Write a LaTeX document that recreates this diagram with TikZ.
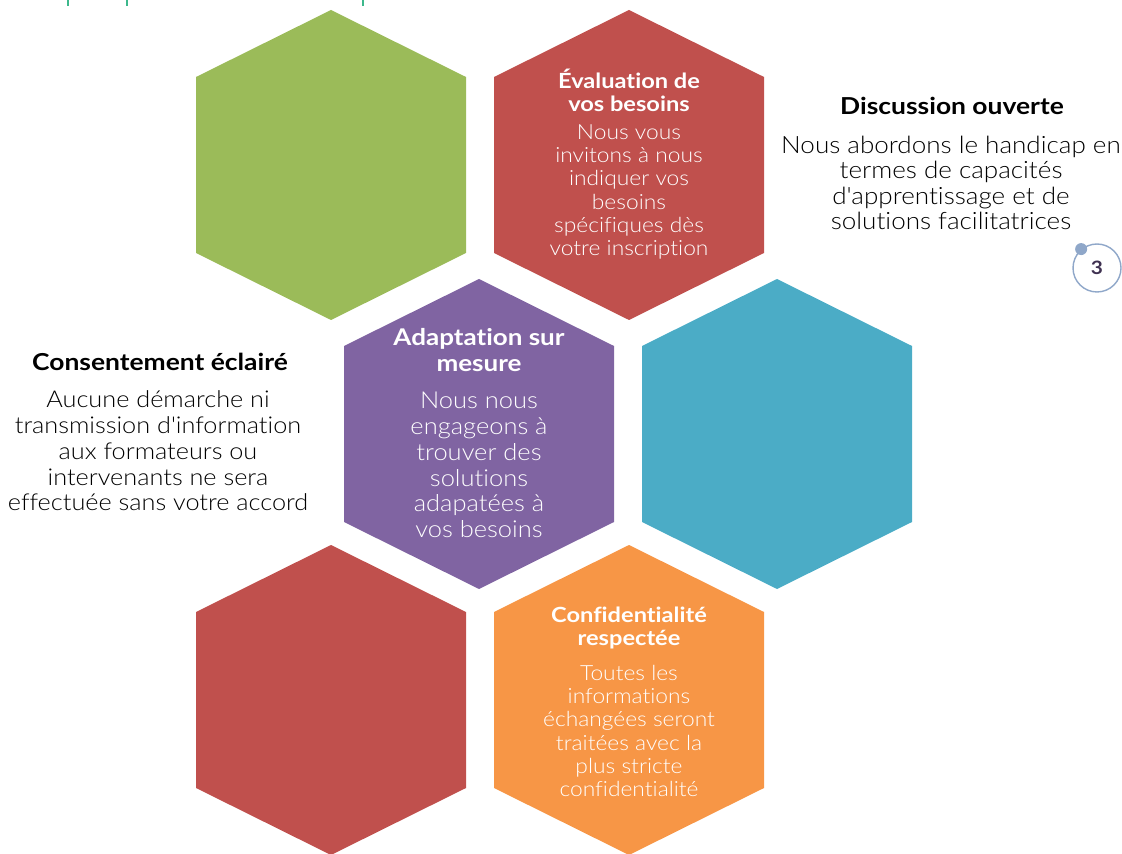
\documentclass[tikz,border=0pt]{standalone}
\usepackage{fontspec}
\setmainfont{Lato}[UprightFont=* Light, BoldFont=* Bold,
  Ligatures={TeXOff,NoCommon},
  UprightFeatures={FakeStretch=1.09}, BoldFeatures={FakeStretch=1.13}]
\usetikzlibrary{positioning}

\definecolor{hexgreen}{HTML}{9BBB59}
\definecolor{hexred}{HTML}{C0504D}
\definecolor{hexpurple}{HTML}{8064A2}
\definecolor{hexteal}{HTML}{4BACC6}
\definecolor{hexorange}{HTML}{F79646}
\definecolor{tickgreen}{HTML}{3DB88C}
\definecolor{ringblue}{HTML}{8FA7C9}
\definecolor{numdark}{HTML}{3F3151}

% one cell of the honeycomb: colour, centre x, centre y
\newcommand{\hexcell}[3]{%
  \fill[#1] (#2,#3) ++(0,-155) -- ++(135,67) -- ++(0,176) -- ++(-135,67)
    -- ++(-135,-67) -- ++(0,-176) -- cycle;}

\tikzset{
  head/.style={align=center, inner sep=0pt, font=\bfseries},
  body/.style={align=center, inner sep=0pt},
  inhex/.style={text=white},
  tick/.style={tickgreen, line width=1.4pt},
}

\begin{document}
\begin{tikzpicture}[x=0.02cm, y=-0.02cm]
\useasboundingbox (0,0) rectangle (1122,854);

\draw[tick] (68,0) -- (68,6);
\draw[tick] (127,0) -- (127,6);
\draw[tick] (363,0) -- (363,6);

\hexcell{hexgreen}{331}{165}
\hexcell{hexred}{629}{165}
\hexcell{hexpurple}{479}{434}
\hexcell{hexteal}{777}{434}
\hexcell{hexred}{331}{700}
\hexcell{hexorange}{629}{700}

\node[head, inhex, font=\bfseries\fontsize{11.9}{13.2}\selectfont] (evalhead) at (629,90)
  {Évaluation de\\vos besoins};
\node[body, inhex, font=\fontsize{11.9}{13.3}\selectfont] (evaltext) at (629,192)
  {Nous vous\\invitons à nous\\indiquer vos\\besoins\\spécifiques dès\\votre inscription};

\node[head, inhex, font=\bfseries\fontsize{13.1}{14.7}\selectfont] (adapthead) at (479,350)
  {Adaptation sur\\mesure};
\node[body, inhex, font=\fontsize{13.3}{14.7}\selectfont] (adapttext) at (479,465)
  {Nous nous\\engageons à\\trouver des\\solutions\\adapatées à\\vos besoins};

\node[head, inhex, font=\bfseries\fontsize{11.9}{12.6}\selectfont] (confhead) at (629,628)
  {Confidentialité\\respectée};
\node[body, inhex, font=\fontsize{11.9}{13.2}\selectfont] (conftext) at (629,731)
  {Toutes les\\informations\\échangées seront\\traitées avec la\\plus stricte\\confidentialité};

\node[head, font=\bfseries\fontsize{13.3}{14.7}\selectfont] (discuhead) at (952,106)
  {Discussion ouverte};
\node[body, font=\fontsize{13.6}{14.5}\selectfont] (discutext) at (951,183)
  {Nous abordons le handicap en\\termes de capacités\\d'apprentissage et de\\solutions facilitatrices};

\node[head, font=\bfseries\fontsize{13.3}{14.7}\selectfont] (consenthead) at (160,362)
  {Consentement éclairé};
\node[body, font=\fontsize{13.2}{14.7}\selectfont] (consenttext) at (158,451)
  {Aucune démarche ni\\transmission d'information\\aux formateurs ou\\intervenants ne sera\\effectuée sans votre accord};

\node[circle, draw=ringblue, line width=0.8pt, minimum size=0.96cm,
  text=numdark, font=\bfseries\fontsize{10.5}{11}\selectfont] (pagenum) at (1097,268) {3};
\fill[ringblue] (pagenum.130) circle (6);
\end{tikzpicture}
\end{document}
